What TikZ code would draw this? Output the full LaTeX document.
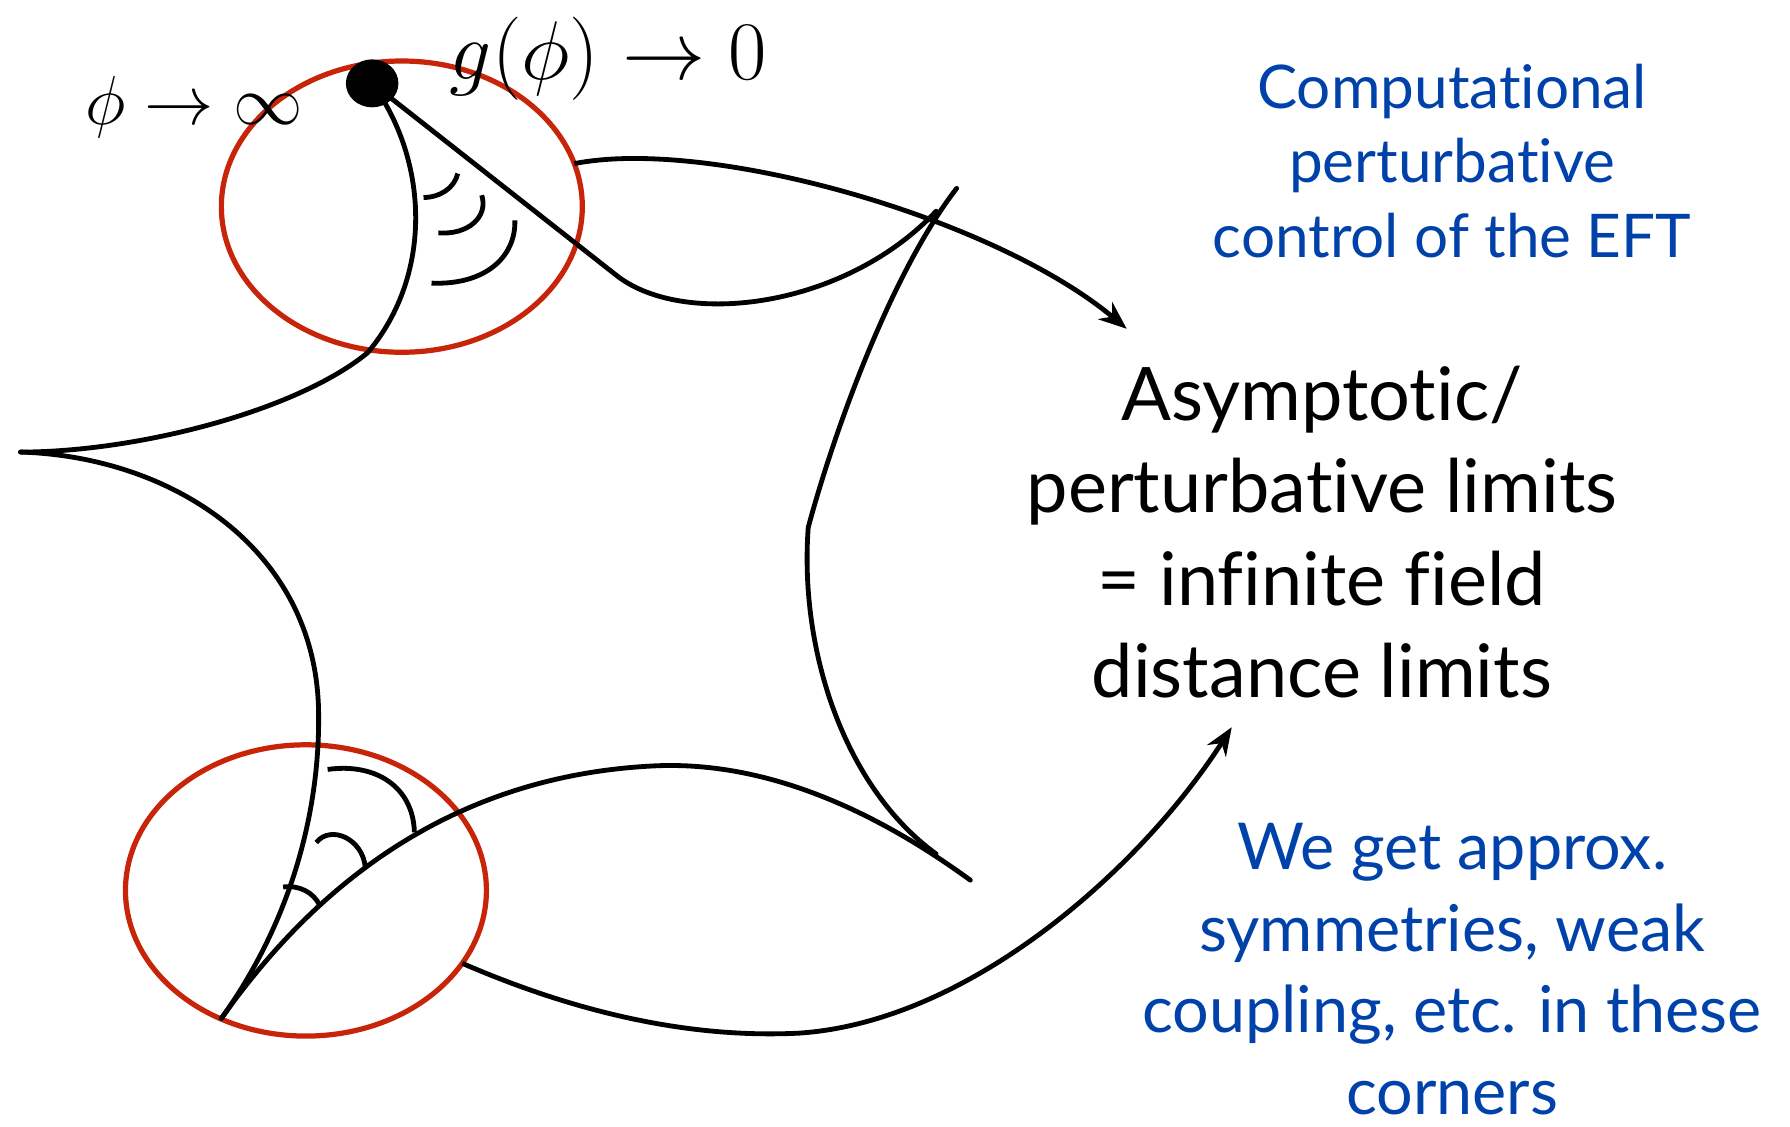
\documentclass[tikz,border=0pt]{standalone}
\usepackage{fontspec}
\usepackage{tikz}
\usetikzlibrary{arrows.meta,shapes.geometric}
\newfontfamily\gillfont[Ligatures=NoCommon]{Lato}
\definecolor{ringred}{RGB}{200,36,10}
\definecolor{noteblue}{RGB}{0,66,170}

\begin{document}
\begin{tikzpicture}[x=0.01cm, y=-0.01cm, >={Stealth[length=7pt,width=5.5pt]},
  ring/.style={draw=ringred, line width=1.3pt, ellipse, inner sep=0pt,
    outer sep=0pt, minimum width=3.16cm, minimum height=2.55cm},
  curve/.style={line width=1.2pt, line cap=round},
  anglemark/.style={line width=1.2pt},
  arr/.style={->, line width=1.2pt},
  maintext/.style={align=center, inner sep=0pt, font=\gillfont\fontsize{18.4}{23}\selectfont},
  bluetext/.style={align=center, inner sep=0pt, text=noteblue}]

\useasboundingbox (0,0) rectangle (1568,987);

% Nodes
\node[ring] (topc) at (352,181) {};
\node[ring] (botc) at (268,780) {};
\node[fill, ellipse, inner sep=0pt, minimum width=0.46cm, minimum height=0.42cm] (dot) at (326,73) {};

\node[anchor=base, inner sep=0pt, font=\fontsize{18}{18}\selectfont] (phi) at (170,109) {$\phi\to\infty$};
\node[anchor=base, inner sep=0pt, font=\fontsize{20.5}{21}\selectfont] (gphi) at (533,70) {$g(\phi)\to 0$};

\node[bluetext, font=\gillfont\fontsize{15}{18.5}\selectfont] (ctrl) at (1272,141)
  {Computational\\perturbative\\control of the EFT};
\node[maintext] (asym) at (1158,466)
  {Asymptotic/\\perturbative limits\\= infinite field\\distance limits};
\node[bluetext, font=\gillfont\fontsize{16.1}{20.3}\selectfont] (symm) at (1272,849)
  {We get approx.\\symmetries, weak\\coupling, etc. in these\\corners};

\coordinate (tipA) at (987,288);
\coordinate (tipB) at (1079,637);

% Moduli space boundary
\draw[curve] (dot.center) .. controls (375,140) and (380,240) .. (322,309)
  .. controls (260,360) and (120,396) .. (18,396);
\draw[curve] (18,396) .. controls (150,400) and (275,480) .. (279,620)
  .. controls (281,700) and (260,800) .. (194,892);
\draw[curve] (194,892) .. controls (280,770) and (400,680) .. (571,671)
  .. controls (680,665) and (780,720) .. (850,771);
\draw[curve] (838,165) .. controls (780,240) and (730,380) .. (708,462)
  .. controls (700,570) and (740,690) .. (820,748);
\draw[curve] (dot.center) -- (541,242) .. controls (600,287) and (740,270) .. (820,185);

% Angle marks
\draw[anglemark] (401,152) .. controls (398,165) and (385,173) .. (371,173);
\draw[anglemark] (422,171) .. controls (428,190) and (410,206) .. (384,204);
\draw[anglemark] (451,193) .. controls (452,225) and (425,250) .. (378,248);
\draw[anglemark] (287,674) .. controls (330,668) and (362,690) .. (363,729);
\draw[anglemark] (277,738) .. controls (290,722) and (318,735) .. (320,760);
\draw[anglemark] (248,777) .. controls (262,775) and (275,782) .. (280,793);

% Arrows
\draw[arr] (topc.14) .. controls (620,120) and (870,190) .. (tipA);
\draw[arr] (botc.-25) .. controls (500,885) and (600,910) .. (700,905)
  .. controls (850,895) and (1000,760) .. (tipB);

\end{tikzpicture}
\end{document}
